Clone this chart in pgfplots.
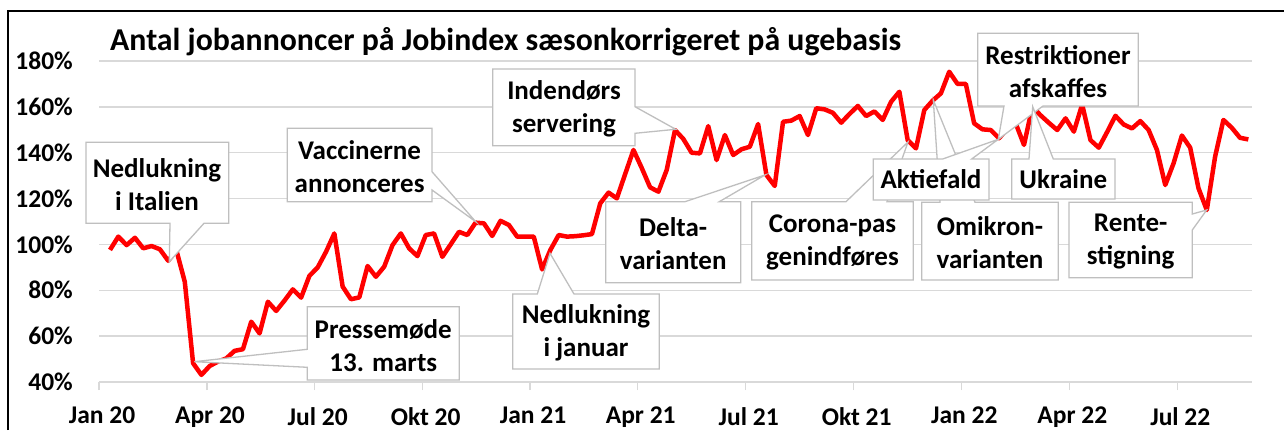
\documentclass[border=0pt]{standalone}
\usepackage{pgfplots}
\pgfplotsset{compat=1.18}
\usepackage{fontspec}
\setmainfont{Carlito}
\definecolor{gridgray}{HTML}{D9D9D9}
\definecolor{boxgray}{HTML}{BFBFBF}
\pgfplotstableread{
x y
0 97.6
1 103.4
2 99.7
3 102.9
4 98.3
5 99.3
6 97.9
7 92.9
8 97.3
9 83.7
10 48.2
11 43.1
12 47.0
13 48.9
14 50.3
15 53.6
16 54.3
17 66.3
18 61.2
19 75.0
20 71.0
21 75.5
22 80.4
23 76.8
24 86.3
25 90.0
26 96.8
27 104.8
28 81.6
29 76.1
30 76.9
31 90.6
32 85.9
33 90.3
34 99.7
35 104.8
36 98.3
37 94.9
38 104.1
39 104.8
40 94.6
41 100.0
42 105.5
43 104.1
44 109.5
45 109.2
46 103.7
47 110.3
48 108.5
49 103.4
50 103.4
51 103.4
52 89.1
53 97.6
54 104.1
55 103.4
56 103.6
57 104.0
58 104.5
59 117.9
60 122.6
61 120.1
62 130.7
63 141.2
64 133.3
65 124.9
66 123.0
67 132.5
68 149.9
69 146.0
70 140.0
71 139.7
72 151.6
73 136.8
74 147.7
75 139.0
76 141.5
77 142.6
78 152.5
79 130.3
80 125.5
81 153.5
82 154.0
83 156.0
84 147.7
85 159.4
86 158.9
87 157.4
88 153.1
89 156.9
90 160.4
91 156.0
92 158.0
93 154.3
94 162.2
95 166.6
96 145.5
97 141.9
98 158.6
99 162.7
100 165.9
101 175.3
102 170.0
103 170.0
104 152.8
105 150.2
106 149.9
107 146.3
108 150.6
109 152.8
110 143.4
111 160.0
112 156.3
113 153.0
114 149.9
115 155.0
116 149.2
117 161.0
118 145.5
119 142.2
120 149.0
121 156.1
122 152.3
123 150.6
124 153.8
125 149.9
126 141.2
127 125.9
128 135.4
129 147.5
130 142.2
131 124.5
132 115.0
133 138.3
134 154.3
135 150.9
136 146.5
137 145.8
}\jobdata
\begin{document}
\begin{tikzpicture}[x=1bp,y=1bp]
\useasboundingbox (0,0) rectangle (1284,430);
\begin{axis}[
  at={(99bp,48bp)}, anchor=south west,
  width=1153bp, height=321bp, scale only axis,
  xmin=-1.324, xmax=137.44, ymin=40, ymax=180,
  separate axis lines,
  axis x line*=bottom, axis y line*=left,
  x axis line style={draw=gridgray, line width=1.3bp, -},
  y axis line style={draw=none},
  ymajorgrids, grid style={draw=gridgray, line width=1.3bp},
  ytick={40,60,80,100,120,140,160,180},
  yticklabels={40\%,60\%,80\%,100\%,120\%,140\%,160\%,180\%},
  xtick={-1.324,11.674,24.64,37.63,50.55,63.51,76.51,89.5,102.45,115.45,128.45},
  xticklabels={Jan 20,Apr 20,Jul 20,Okt 20,Jan 21,Apr 21,Jul 21,Okt 21,Jan 22,Apr 22,Jul 22},
  tick align=outside, major tick length=8bp,
  xtick style={draw=gridgray, line width=1.3bp},
  ytick style={draw=none},
  tick label style={font=\fontsize{25.5bp}{27bp}\selectfont\bfseries, text=black},
  yticklabel style={anchor=east, inner sep=0pt, xshift=-18bp},
  xticklabel style={anchor=north, inner sep=0pt, yshift=-17bp, xshift=3bp},
  clip=false,
]
\addplot[color=red, line width=4.5bp, line join=round, mark=none] table[x=x,y=y] {\jobdata};
\end{axis}
\draw[black, line width=2bp] (8.3,0) -- (8.3,419.3) -- (1284,419.3);
\begin{scope}[yshift=430bp, yscale=-1]
\tikzset{callout/.style={fill=white, draw=boxgray, line width=1.3bp, line join=miter},
  ctext/.style={font=\fontsize{27bp}{33bp}\selectfont\bfseries, align=center, inner sep=0pt}}
\node[anchor=base west, inner sep=0pt, font=\fontsize{31.8bp}{32bp}\selectfont\bfseries] at (110,50.7) {Antal jobannoncer på Jobindex sæsonkorrigeret på ugebasis};
% Nedlukning i Italien
\draw[callout] (86,142.3) -- (228.7,142.3) -- (228.7,223.3) -- (204,223.3) -- (169.3,261.7) -- (170,223.3) -- (86,223.3) -- cycle;
\node[ctext] at (157,184.5) {Nedlukning\\i Italien};
% Vaccinerne
\draw[callout] (287.3,128.3) -- (432,128.3) -- (432,171.7) -- (475.7,221.7) -- (432,190) -- (432,201.7) -- (287.3,201.7) -- cycle;
\node[ctext] at (359.6,166.3) {Vaccinerne\\annonceres};
% Pressemode
\draw[callout] (307.3,306.7) -- (459.3,306.7) -- (459.3,380) -- (307.3,380) -- (307.3,367.3) -- (194.3,361.7) -- (307.3,349.3) -- cycle;
\node[ctext] at (383.3,345.5) {Pressemøde\\13. marts};
% Indendors servering
\draw[callout] (492.7,69) -- (635,69) -- (635,106.7) -- (675.7,129.3) -- (635,133.3) -- (635,145.7) -- (492.7,145.7) -- cycle;
\node[ctext] at (564,109.2) {Indendørs\\servering};
% Nedlukning i januar
\draw[callout] (512.7,294) -- (537.3,294) -- (550,253.3) -- (574,294) -- (659.3,294) -- (659.3,369) -- (512.7,369) -- cycle;
\node[ctext] at (586,333.3) {Nedlukning\\i januar};
% Delta
\draw[callout] (605.7,201.7) -- (685,201.7) -- (765,175) -- (719.3,201.7) -- (740.7,201.7) -- (740.7,282.7) -- (605.7,282.7) -- cycle;
\node[ctext] at (673.2,243.8) {Delta-\\varianten};
% Corona-pas
\draw[callout] (751.7,201.7) -- (846,201.7) -- (908,142) -- (887,201.7) -- (913.3,201.7) -- (913.3,280) -- (751.7,280) -- cycle;
\node[ctext] at (832.5,242.5) {Corona-pas\\genindføres};
% Omikron
\draw[callout] (921.7,202.3) -- (940,202.3) -- (933.3,100) -- (975,202.3) -- (1058.3,202.3) -- (1058.3,280) -- (921.7,280) -- cycle;
\node[ctext] at (990,242.5) {Omikron-\\varianten};
% Aktiefald
\draw[callout] (873.3,159) -- (942.7,159) -- (998.3,139.3) -- (971.7,159) -- (989,159) -- (989,200) -- (873.3,200) -- cycle;
\node[ctext] at (931,179.3) {Aktiefald};
% Restriktioner
\draw[callout] (977.7,33.3) -- (1138.3,33.3) -- (1138.3,106) -- (1043,106) -- (998.3,139.3) -- (1004,106) -- (977.7,106) -- cycle;
\node[ctext] at (1058,71.7) {Restriktioner\\afskaffes};
% Ukraine
\draw[callout] (1011.7,159) -- (1029,159) -- (1032.7,106.7) -- (1053.3,159) -- (1115,159) -- (1115,199) -- (1011.7,199) -- cycle;
\node[ctext] at (1063.3,179) {Ukraine};
% Rente-stigning
\draw[callout] (1069,202.3) -- (1192.3,202.3) -- (1192.3,214) -- (1206.7,210) -- (1192.3,230) -- (1192.3,277.7) -- (1069,277.7) -- cycle;
\node[ctext] at (1130.7,242) {Rente-\\stigning};
\end{scope}
\end{tikzpicture}
\end{document}
